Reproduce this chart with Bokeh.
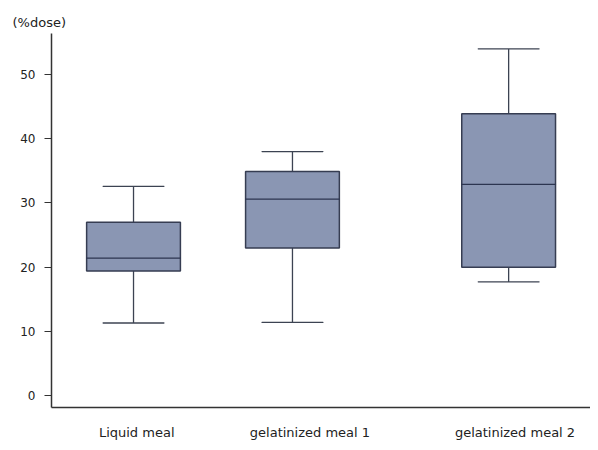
from bokeh.plotting import figure
from bokeh.models import FixedTicker, Range1d, Title, ColumnDataSource
from bokeh.embed import file_html
from bokeh.resources import INLINE

categories = ["Liquid meal", "gelatinized meal 1", "gelatinized meal 2"]
x_pos = [1.0, 2.0, 3.36]
label_pos = [1.02, 2.11, 3.40]
lower_whisker = [11.3, 11.4, 17.7]
q1 = [19.4, 23.0, 20.0]
median = [21.4, 30.6, 32.9]
q3 = [27.0, 34.9, 43.9]
upper_whisker = [32.6, 38.0, 54.0]
y_ticks = [0, 10, 20, 30, 40, 50]

src = ColumnDataSource(dict(x=x_pos, lw=lower_whisker, q1=q1, med=median,
                            q3=q3, uw=upper_whisker))

p = figure(width=590, height=442, output_backend="svg", toolbar_location=None,
           x_range=Range1d(0.484, 3.875), y_range=Range1d(-1.86, 56.4),
           min_border_left=51, min_border_right=0, min_border_top=33,
           min_border_bottom=34)
p.outline_line_color = None
p.xgrid.visible = False
p.ygrid.visible = False
p.background_fill_color = "white"
p.border_fill_color = "white"

line_col = "#3c4352"
# whiskers
p.segment(x0="x", y0="q3", x1="x", y1="uw", source=src, line_color=line_col, line_width=1.3)
p.segment(x0="x", y0="lw", x1="x", y1="q1", source=src, line_color=line_col, line_width=1.3)
p.rect(x="x", y="uw", width=0.384, height=0.001, source=src, line_color=line_col,
       line_width=1.3, fill_color=None)
p.rect(x="x", y="lw", width=0.384, height=0.001, source=src, line_color=line_col,
       line_width=1.3, fill_color=None)
# boxes
p.vbar(x="x", bottom="q1", top="q3", width=0.59, source=src, fill_color="#8a96b3",
       line_color="#363d52", line_width=1.5)
p.rect(x="x", y="med", width=0.59, height=0.001, source=src, line_color="#2c3550",
       line_width=1.3, fill_color=None)

# axes
p.yaxis.ticker = FixedTicker(ticks=y_ticks)
p.yaxis.major_tick_out = 7
p.yaxis.major_tick_in = 0
p.yaxis.minor_tick_line_color = None
p.yaxis.major_label_standoff = 9
p.yaxis.major_label_text_font = "DejaVu Sans"
p.yaxis.major_label_text_font_size = "12px"
p.yaxis.major_label_text_color = "#222222"
p.yaxis.axis_line_color = "#333333"
p.yaxis.axis_line_width = 1.5
p.yaxis.major_tick_line_color = "#333333"

p.xaxis.ticker = FixedTicker(ticks=label_pos)
p.xaxis.major_label_overrides = {x: c for x, c in zip(label_pos, categories)}
p.xaxis.major_tick_line_color = None
p.xaxis.major_tick_out = 0
p.xaxis.major_tick_in = 0
p.xaxis.minor_tick_line_color = None
p.xaxis.minor_tick_out = 0
p.xaxis.major_label_standoff = 17
p.xaxis.major_label_text_font = "DejaVu Sans"
p.xaxis.major_label_text_font_size = "13px"
p.xaxis.major_label_text_color = "#222222"
p.xaxis.axis_line_color = "#333333"
p.xaxis.axis_line_width = 1.5

t = Title(text="(%dose)", align="left", offset=-39, text_font="DejaVu Sans",
          text_font_size="13px", text_font_style="normal", text_color="#222222",
          standoff=7)
p.add_layout(t, "above")

open("out.html", "w").write(file_html(p, INLINE))
